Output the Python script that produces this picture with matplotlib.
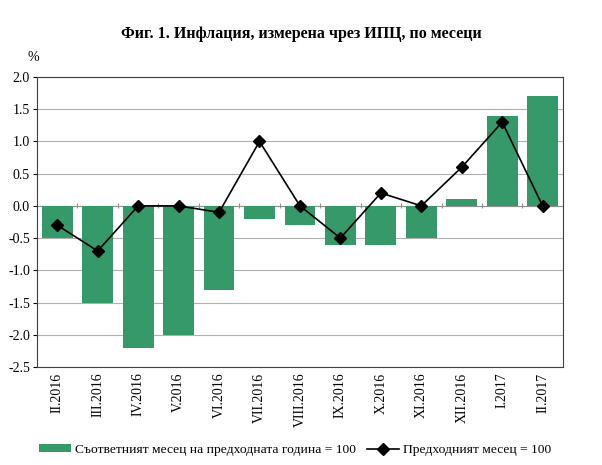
import numpy as np
import matplotlib
matplotlib.use("Agg")
import matplotlib.pyplot as plt

plt.rcParams['font.family'] = ['Liberation Serif', 'DejaVu Serif']

months = ["II.2016", "III.2016", "IV.2016", "V.2016", "VI.2016", "VII.2016",
          "VIII.2016", "IX.2016", "X.2016", "XI.2016", "XII.2016", "I.2017", "II.2017"]
yoy = [-0.5, -1.5, -2.2, -2.0, -1.3, -0.2, -0.3, -0.6, -0.6, -0.5, 0.1, 1.4, 1.7]
mom = [-0.3, -0.7, 0.0, 0.0, -0.1, 1.0, 0.0, -0.5, 0.2, 0.0, 0.6, 1.3, 0.0]

GREEN = "#35996A"
x = np.arange(len(months))

fig = plt.figure(figsize=(6.02, 4.65), dpi=100)
ax = fig.add_axes([0.0615, 0.2108, 0.8735, 0.6236])

bars = ax.bar(x, yoy, width=0.76, color=GREEN, zorder=2,
              label="Съответният месец на предходната година = 100")
line, = ax.plot(x, mom, color="black", lw=1.2, marker="D", ms=6.5, zorder=3,
                label="Предходният месец = 100")

ax.set_xlim(-0.5, len(months) - 0.5)
ax.set_ylim(-2.5, 2.0)
ax.set_yticks(np.arange(-2.5, 2.01, 0.5))
ax.set_yticklabels([f"{v:.1f}" for v in np.arange(-2.5, 2.01, 0.5)], fontsize=10)
ax.yaxis.grid(True, color="#b0b0b0", lw=0.8, zorder=0)
ax.set_axisbelow(True)
ax.tick_params(axis="y", length=3, pad=2)

# category axis at zero with boundary tick marks
ax.axhline(0, color="#909090", lw=0.8, zorder=1)
bounds = np.arange(len(months) + 1) - 0.5
ax.vlines(bounds[1:-1], -0.04, 0.04, color="#909090", lw=0.8, zorder=1)

ax.set_xticks(x)
ax.set_xticklabels(months, rotation=90, fontsize=10)
ax.tick_params(axis="x", length=0, pad=4)

for s in ax.spines.values():
    s.set_color("#404040")
    s.set_linewidth(0.8)

fig.text(0.5, 0.927, "Фиг. 1. Инфлация, измерена чрез ИПЦ, по месеци",
         ha="center", va="center", fontsize=11.5, fontweight="bold")
fig.text(0.055, 0.877, "%", ha="center", va="center", fontsize=10)

fig.legend(handles=[bars, line], loc="center", bbox_to_anchor=(0.49, 0.032), ncol=2,
           frameon=False, fontsize=9.7, handlelength=2.4, handleheight=0.5,
           handletextpad=0.3, columnspacing=0.8)

fig.savefig("out.png", dpi=100)
